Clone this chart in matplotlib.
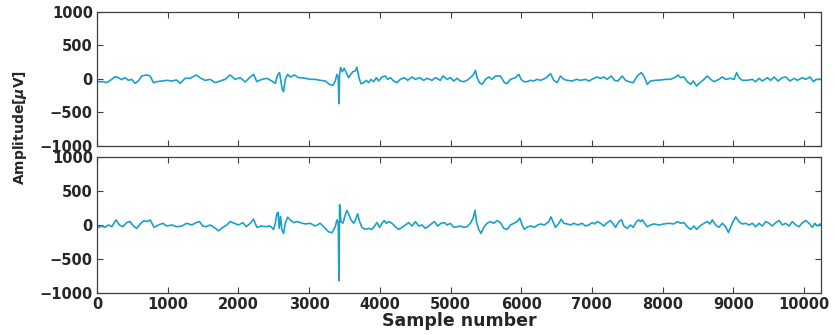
import matplotlib
matplotlib.use("Agg")
import matplotlib.pyplot as plt

# Channel 1 (upper trace): sample index and amplitude in microvolts
top_idx = [0, 19, 90, 137, 208, 255, 302, 349, 397, 444, 491, 538, 585, 633, 703, 751, 798, 845,
           916, 987, 1057, 1128, 1175, 1246, 1317, 1402, 1468, 1529, 1600, 1671, 1742, 1813, 1883,
           1954, 2025, 2096, 2157, 2214, 2261, 2332, 2403, 2473, 2521, 2554, 2582, 2601, 2620, 2639,
           2662, 2695, 2733, 2790, 2851,
           2874, 2945, 3016, 3086, 3157, 3228, 3289, 3337, 3370, 3393, 3412, 3422, 3431, 3445, 3469,
           3497, 3525, 3558, 3582, 3620, 3653, 3676, 3705, 3733, 3771, 3809, 3842, 3875, 3912, 3950,
           3983, 4030, 4078, 4111, 4148, 4196, 4243, 4290, 4347, 4394, 4455, 4502, 4564, 4620, 4668,
           4738, 4786, 4856, 4894, 4951, 4998, 5045, 5092, 5140, 5187, 5234, 5281, 5328, 5352, 5376,
           5409, 5447, 5494, 5541, 5588, 5635, 5706, 5763, 5800, 5848, 5918, 5966, 5999, 6036, 6084,
           6131, 6178, 6225, 6272,
           6343, 6414, 6461, 6508, 6555, 6602, 6650, 6720, 6782, 6838, 6909, 6956, 7027, 7074, 7122,
           7169, 7216, 7273, 7320, 7367, 7428, 7476, 7523, 7584, 7641, 7697, 7735, 7782, 7830, 7900,
           7971, 8042, 8113, 8184, 8217, 8254, 8302, 8349, 8396, 8434, 8481, 8528, 8585, 8632, 8679,
           8726, 8797, 8844, 8892, 8962, 9010, 9047, 9080, 9128, 9198, 9269, 9316, 9364, 9411, 9482,
           9529, 9576, 9633, 9694, 9741, 9803, 9859, 9906, 9977, 10024, 10086, 10133, 10171, 10213,
           10240]
top_uv = [-30, -40, -40, -55, -5, 35, 20, -10, 20, -20, -5, -65, -30, 45, 60, 45, -55, -40,
          -30, -20, -30, -15, -65, 10, 10, 60, 10, -20, -5, -55, -30, -5, 60,
          -5, 20, -45, 20, 70, -40, -5, 10, -30, -65, 60, 95, -30, -155, -190,
          -5, 70, 30, 60, 20,
          20, 10, -5, -5, -20, -30, -80, -95, -30, 70, 20, -370, 70, 170, 110,
          160, 95, 20, 60, 110, 120, 175, 20, -70, -55, -20, -55, -5, -40, 20,
          -30, 30, 45, -5, 20, -30, -55, -5, 20, -20, 30, -5, 20, -20, 10,
          -20, 20, -20, 45, -5, 20, -30, 10, -30, -40, -20, 20, 70, 130, 20,
          -55, -80, -5, 30, -5, 45, 45, -55, -70, -5, 20, 70, -5, -40, -40,
          -20, -30, -5, -20,
          10, 80, -20, -55, 45, -5, -20, -30, -5, -20, -5, -30, 10, 30, 10,
          30, -5, 45, -20, -30, 45, -20, -40, -55, 45, 95, 45, -80, -30, -20,
          -15, -5, -5, 30, 60, 20, 30, -40, -80, -30, -105, -55, -5, 45, -5,
          -40, -5, 30, -5, 10, -5, 95, 20, -20, -20, -5, -40, 10, -30, 20,
          -20, 30, -30, 20, 30, -30, 10, -20, 20, -5, 30, -40, -5, -5,
          -5]

# Channel 2 (lower trace): sample index and amplitude in microvolts
bot_idx = [0, 19, 66, 113, 161, 208, 269, 316, 364, 420, 467, 515, 562, 618, 666, 713, 751, 807,
           869, 930, 987, 1057, 1128, 1199, 1270, 1341, 1402, 1449, 1496, 1544, 1600, 1657, 1718,
           1779, 1836, 1883, 1940, 2001, 2063, 2110, 2167, 2214, 2261, 2318, 2379, 2450, 2497, 2521,
           2544, 2563, 2577, 2596, 2615, 2639, 2662, 2695, 2733, 2780, 2827,
           2874, 2945, 3016, 3086, 3157, 3214, 3275, 3322, 3370, 3393, 3412, 3422, 3431, 3450, 3478,
           3511, 3535, 3558, 3592, 3630, 3658, 3686, 3714, 3747, 3795, 3842, 3889, 3936, 3960, 3997,
           4030, 4063, 4092, 4125, 4172, 4219, 4266, 4314, 4361, 4408, 4455, 4502, 4550, 4597, 4644,
           4691, 4738, 4772, 4819, 4866, 4913, 4951, 4998, 5045, 5092, 5140, 5187, 5234, 5281, 5319,
           5347, 5366, 5399, 5432, 5470, 5517, 5564, 5612, 5659, 5706, 5753, 5800, 5848, 5895, 5942,
           5980, 6013, 6046, 6093, 6140, 6187, 6234,
           6272, 6329, 6390, 6420, 6484, 6532, 6565, 6602, 6650, 6697, 6744, 6801, 6862, 6909, 6956,
           7004, 7037, 7074, 7122, 7169, 7216, 7263, 7301, 7334, 7381, 7419, 7452, 7499, 7546, 7584,
           7631, 7665, 7688, 7712, 7745, 7782, 7830, 7877, 7948, 8018, 8089, 8160, 8207, 8254, 8302,
           8349, 8396, 8443, 8481, 8528, 8585, 8632, 8670, 8703, 8750, 8797, 8844, 8892, 8930, 8986,
           9033, 9080, 9128, 9175, 9222, 9269, 9316, 9364, 9411, 9458, 9505, 9552, 9600, 9647, 9694,
           9741, 9789, 9836, 9883, 9930, 9977, 10024, 10071, 10119, 10152, 10190, 10227, 10240]
bot_uv = [-20, -35, -15, -35, 0, -25, 75, 0, -25, 35, 50, -15, -50, 25, 65, 50, 75, -35,
          0, 25, -15, 0, -25, -15, 25, 0, 35, 50, -15, -25, 0, -35, -85,
          -35, 0, 50, 25, 0, 35, -25, 25, 85, -35, -15, -25, -15, -65, 25,
          165, 185, -50, 125, -75, -125, 25, 115, 75, 35, 50,
          35, 15, 25, -15, 25, -35, -100, -115, -25, 75, 25, -820, 300, 50, 25,
          150, 215, 165, 75, 25, 85, 165, 50, -35, -65, -50, -65, 0, 35, -35,
          25, 65, 25, 50, 25, -25, -65, -35, 0, 35, -15, 50, -15, 0, -50,
          -15, 25, 50, -15, 25, 35, 0, 25, -35, -25, -15, -35, -25, 25, 100,
          215, 50, -65, -125, -35, 25, 50, 25, 65, 35, -50, -65, 0, 25, 50,
          100, 0, -65, -25, -15, -35, 0,
          15, 0, 50, 120, -35, 25, 85, 25, 15, 0, 25, 0, 25, -15, 0,
          35, 15, 50, 25, -15, 35, 65, 15, -35, 50, 75, -15, -50, 0, -35,
          50, 75, 50, 75, 25, -25, 0, 15, 0, 15, 25, 15, 50, 25, 35,
          -25, -65, -15, -65, -15, 25, 50, 15, 75, 0, -35, 25, -25, -110, 25,
          120, 50, 15, 25, 0, 25, -25, 25, -15, 50, 25, -15, 35, 65, 0,
          25, -15, 50, 0, -25, 35, 65, 25, -35, 25, -15, 15, 0]

x_ticks = [0, 1000, 2000, 3000, 4000, 5000, 6000, 7000, 8000, 9000, 10000]
y_ticks = [-1000, -500, 0, 500, 1000]

line_color = "#1ca0cb"
text_color = "#262626"

plt.rcParams["font.family"] = ["DejaVu Sans"]
plt.rcParams["font.weight"] = "bold"

fig = plt.figure(figsize=(8.35, 3.35), dpi=100)
ax_top = fig.add_axes([0.1162, 0.5642, 0.8670, 0.4000])
ax_bot = fig.add_axes([0.1162, 0.1254, 0.8670, 0.4060])

for ax, xs, ys in ((ax_top, top_idx, top_uv), (ax_bot, bot_idx, bot_uv)):
    ax.plot(xs, ys, color=line_color, linewidth=1.2)
    ax.set_xlim(0, 10240)
    ax.set_ylim(-1000, 1000)
    ax.set_xticks(x_ticks)
    ax.set_yticks(y_ticks)
    ax.tick_params(direction="in", length=4, width=0.8, top=True, right=True,
                   colors="#404040", labelcolor=text_color, labelsize=10.5, pad=3)
    for lab in ax.get_xticklabels() + ax.get_yticklabels():
        lab.set_fontweight("bold")
    for sp in ax.spines.values():
        sp.set_color("#404040")
        sp.set_linewidth(0.9)

ax_top.tick_params(labelbottom=False)
ax_bot.set_xlabel("Sample number", fontsize=12.5, fontweight="bold",
                  color=text_color, labelpad=0)
fig.text(0.024, 0.618, r"Amplitude[$\mu$V]", rotation=90, ha="center", va="center",
         fontsize=10, fontweight="bold", color=text_color)

fig.savefig("out.png", dpi=100)
